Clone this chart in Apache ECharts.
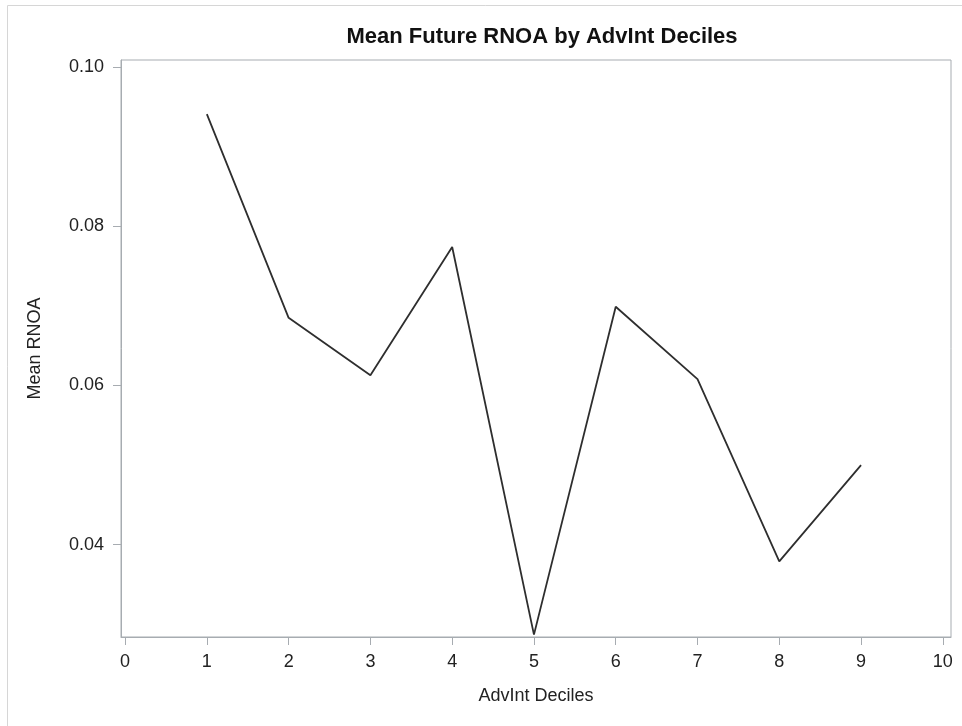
<!DOCTYPE html>
<html>
<head>
<meta charset="utf-8">
<title>Mean Future RNOA by AdvInt Deciles</title>
<script src="https://cdn.jsdelivr.net/npm/echarts@6/dist/echarts.min.js"></script>
<style>
  html, body { margin: 0; padding: 0; background: #ffffff; }
  #chart { width: 962px; height: 726px; }
</style>
</head>
<body>
<div id="chart"></div>
<script>
// Advertising-intensity deciles and the mean future RNOA in each
const deciles = [1, 2, 3, 4, 5, 6, 7, 8, 9];
const meanRnoa = [0.0941, 0.0685, 0.0613, 0.0774, 0.0287, 0.0699, 0.0608, 0.0379, 0.0500];

// Tick positions
const xTicks = [0, 1, 2, 3, 4, 5, 6, 7, 8, 9, 10];
const yTicks = [0.04, 0.06, 0.08, 0.10];

const FONT = '"Liberation Sans", Arial, "DejaVu Sans", sans-serif';
const AXIS_GRAY = '#a7acb1';
const TEXT = '#222222';

const chart = echarts.init(document.getElementById('chart'), null, { renderer: 'canvas' });

chart.setOption({
  backgroundColor: '#ffffff',
  animation: false,
  title: {
    text: 'Mean Future RNOA by AdvInt Deciles',
    left: 537,
    textAlign: 'center',
    top: 21,
    textStyle: { fontFamily: FONT, fontSize: 22, fontWeight: 'bold', color: '#111111' }
  },
  graphic: [{
    type: 'rect',
    shape: { x: 7.5, y: 5.5, width: 1000, height: 1000 },
    style: { fill: 'none', stroke: '#d6d6d6', lineWidth: 1 },
    silent: true,
    z: -1
  }],
  grid: {
    left: 121, right: 11, top: 60, bottom: 89,
    show: true,
    borderColor: AXIS_GRAY,
    borderWidth: 1,
    backgroundColor: 'transparent'
  },
  xAxis: {
    type: 'value',
    min: -0.05,
    max: 10.1,
    name: 'AdvInt Deciles',
    nameLocation: 'middle',
    nameGap: 50,
    nameTextStyle: { fontFamily: FONT, fontSize: 18, color: TEXT },
    axisLine: { show: true, onZero: false, lineStyle: { color: AXIS_GRAY, width: 1 } },
    axisTick: { show: true, length: 8, customValues: xTicks, lineStyle: { color: AXIS_GRAY } },
    axisLabel: {
      customValues: xTicks,
      margin: 16,
      fontFamily: FONT, fontSize: 18, color: TEXT,
      formatter: v => String(v)
    },
    splitLine: { show: false }
  },
  yAxis: {
    type: 'value',
    min: 0.0284,
    max: 0.1009,
    name: 'Mean RNOA',
    nameLocation: 'middle',
    nameGap: 77,
    nameRotate: 90,
    nameTextStyle: { fontFamily: FONT, fontSize: 18, color: TEXT },
    axisLine: { show: true, onZero: false, lineStyle: { color: AXIS_GRAY, width: 1 } },
    axisTick: { show: true, length: 8, customValues: yTicks, lineStyle: { color: AXIS_GRAY } },
    axisLabel: {
      customValues: yTicks,
      margin: 17,
      fontFamily: FONT, fontSize: 18, color: TEXT,
      formatter: v => v.toFixed(2)
    },
    splitLine: { show: false }
  },
  series: [{
    type: 'line',
    data: deciles.map((d, i) => [d, meanRnoa[i]]),
    showSymbol: false,
    symbol: 'none',
    clip: false,
    lineStyle: { color: '#2e2e2e', width: 1.8 }
  }]
});
</script>
</body>
</html>
